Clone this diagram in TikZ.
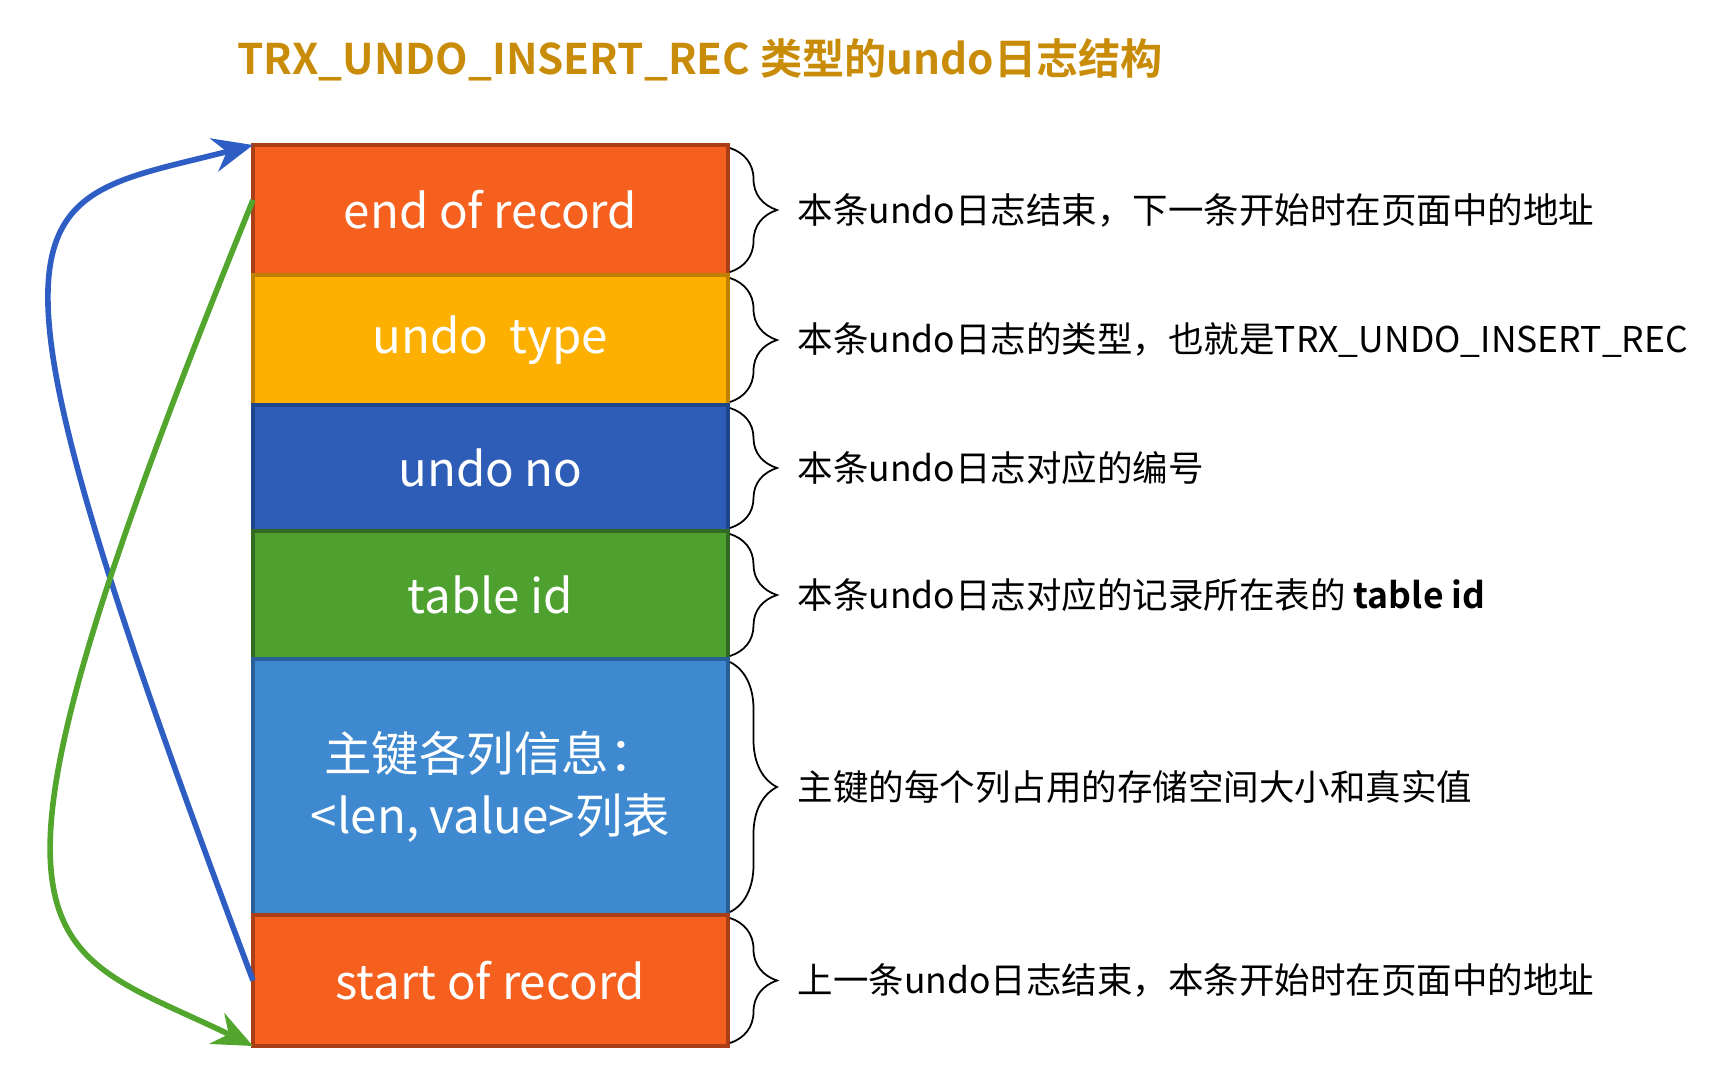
\documentclass[tikz,border=0pt]{standalone}
\usepackage{fontspec}
\setmainfont{Noto Sans CJK SC}[BoldFont={Noto Sans CJK SC Bold}]
\usepackage{xcolor}
\definecolor{titlegold}{RGB}{201,140,8}
\definecolor{recorange}{RGB}{245,96,30}
\definecolor{recorangeline}{RGB}{170,62,22}
\definecolor{typeyellow}{RGB}{253,176,0}
\definecolor{typeyellowline}{RGB}{190,128,0}
\definecolor{noblue}{RGB}{46,93,184}
\definecolor{noblueline}{RGB}{30,70,140}
\definecolor{idgreen}{RGB}{78,161,46}
\definecolor{idgreenline}{RGB}{50,105,35}
\definecolor{pkblue}{RGB}{62,137,207}
\definecolor{pkblueline}{RGB}{40,95,150}
\definecolor{arrowblue}{RGB}{46,94,196}
\definecolor{arrowgreen}{RGB}{82,166,45}
\usetikzlibrary{arrows.meta,positioning,decorations.pathreplacing}

\begin{document}
\begin{tikzpicture}[
  fld/.style={draw,line width=0.9pt,minimum width=47.5mm,text=white,font=\fontsize{13.5pt}{17.6pt}\selectfont,align=center,inner sep=0pt,outer sep=0pt},
  desc/.style={font=\fontsize{10.1pt}{12pt}\selectfont,anchor=west,inner sep=0pt},
  ttl/.style={font=\bfseries\fontsize{12pt}{15pt}\selectfont,text=titlegold},
  brc/.style={decorate,decoration={brace,amplitude=4.7mm},line width=0.5pt},
  ptr/.style={line width=1.6pt,-{Stealth[length=4mm,width=3.4mm]}}
]
  \useasboundingbox (0,0) rectangle (17.12,-10.70);

  % title
  \node[ttl] (ttl) at (7.0,-0.6) {TRX\_UNDO\_INSERT\_REC 类型的undo日志结构};

  % record fields
  \node[fld,fill=recorange,draw=recorangeline,minimum height=13mm] (eor) at (4.905,-2.10) {end of record};
  \node[fld,fill=typeyellow,draw=typeyellowline,minimum height=13mm] (utype) at (4.905,-3.40) {undo~ type};
  \node[fld,fill=noblue,draw=noblueline,minimum height=12.6mm] (uno) at (4.905,-4.68) {undo no};
  \node[fld,fill=idgreen,draw=idgreenline,minimum height=12.8mm] (tid) at (4.905,-5.95) {table id};
  \node[fld,fill=pkblue,draw=pkblueline,minimum height=25.6mm] (pk) at (4.905,-7.87) {主键各列信息：\\<len, value>列表};
  \node[fld,fill=recorange,draw=recorangeline,minimum height=13.1mm] (sor) at (4.905,-9.805) {start of record};

  % descriptions
  \node[desc,right=6.9mm of eor] (d1) {本条undo日志结束，下一条开始时在页面中的地址};
  \node[desc,right=6.9mm of utype] (d2) {本条undo日志的类型，也就是TRX\_UNDO\_INSERT\_REC};
  \node[desc,right=6.9mm of uno] (d3) {本条undo日志对应的编号};
  \node[desc,right=6.9mm of tid] (d4) {本条undo日志对应的记录所在表的 \textbf{table id}};
  \node[desc,right=6.9mm of pk] (d5) {主键的每个列占用的存储空间大小和真实值};
  \node[desc,right=6.9mm of sor] (d6) {上一条undo日志结束，本条开始时在页面中的地址};

  % braces
  \foreach \f in {eor,utype,uno,tid,pk,sor}
    \draw[brc] ([xshift=0.2mm,yshift=-0.3mm]\f.north east) -- ([xshift=0.2mm,yshift=0.3mm]\f.south east);

  % pointers
  \draw[ptr,draw=arrowblue] (sor.west) .. controls (-0.50,-1.75) and (0.18,-2.05) .. (eor.north west);
  \draw[ptr,draw=arrowgreen] ([yshift=1mm]eor.west) .. controls (-0.60,-9.70) and (0.35,-9.40) .. (sor.south west);
\end{tikzpicture}
\end{document}
